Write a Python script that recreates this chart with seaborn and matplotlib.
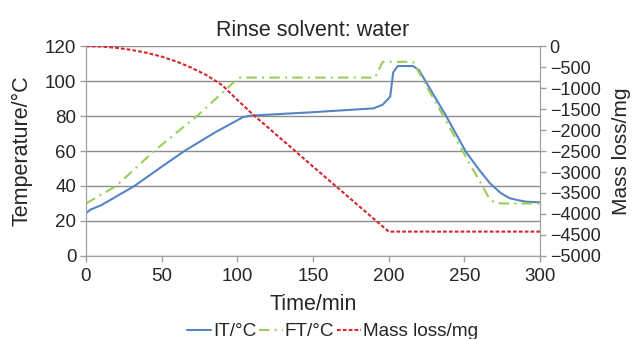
import numpy as np
import pandas as pd
import matplotlib.pyplot as plt
import seaborn as sns

# IT (inner temperature)
it_time = [0, 3, 10, 20, 32, 50, 65, 85, 104, 110, 150, 190, 196, 201, 203, 206, 216, 220, 238, 251, 260, 267, 274, 280, 286, 291, 300]
it_temp = [24.5, 26.5, 29, 34, 40, 51, 60, 70.5, 79.5, 80.3, 82.2, 84.4, 86.5, 91, 105, 108.6, 108.6, 106.3, 80, 59.6, 49, 41.5, 36, 33, 31.8, 31, 30.7]

# FT (furnace temperature)
ft_time = [0, 20, 45, 74, 101, 191, 196, 216, 220, 238, 254, 262, 266, 270, 275, 300]
ft_temp = [30, 40, 60, 80.5, 102, 102, 111, 111, 105, 77, 52, 40, 33.5, 30.5, 30, 30]

# mass loss
ml_time = [0, 10, 20, 30, 40, 50, 60, 70, 80, 90, 100, 110, 120, 150, 200, 300]
ml_mass = [0, -10, -40, -90, -160, -250, -370, -520, -700, -930, -1280, -1620, -1930, -2870, -4420, -4420]

sns.set_style("white")
plt.rcParams['font.family'] = ['Liberation Sans', 'DejaVu Sans']

fig = plt.figure(figsize=(6.35, 3.39), dpi=100)
ax = fig.add_axes([0.1354, 0.245, 0.715, 0.619])
ax2 = ax.twinx()

blue = '#5584c4'
green = '#9acd5a'
red = '#d8262e'

it_df = pd.DataFrame({'t': it_time, 'v': it_temp})
ft_df = pd.DataFrame({'t': ft_time, 'v': ft_temp})
ml_df = pd.DataFrame({'t': ml_time, 'v': ml_mass})

sns.lineplot(data=it_df, x='t', y='v', ax=ax, color=blue, lw=1.5, label='IT/°C', legend=False)
sns.lineplot(data=ft_df, x='t', y='v', ax=ax, color=green, lw=1.5, ls=(0, (5, 2.5, 1, 2.5)), label='FT/°C', legend=False)
sns.lineplot(data=ml_df, x='t', y='v', ax=ax2, color=red, lw=1.5, ls=(0, (1.8, 1)), label='Mass loss/mg', legend=False)

ax.set_xlim(0, 300)
ax.set_ylim(0, 120)
ax.set_xticks(range(0, 301, 50))
ax.set_yticks(range(0, 121, 20))
ax2.set_ylim(-5000, 0)
ax2.set_yticks(range(-5000, 1, 500))

ax.yaxis.grid(True, color='#8c8c8c', lw=1)
ax.set_axisbelow(True)

for a in (ax, ax2):
    for s in a.spines.values():
        s.set_color('#a0a0a0')
    a.spines['top'].set_visible(False)
    a.tick_params(labelsize=13.5, length=4, color='#a0a0a0', direction='out', width=1, pad=3)
ax.tick_params(axis='x', bottom=True, pad=5)
ax.tick_params(axis='y', left=True)
ax2.tick_params(axis='y', right=True, labelsize=13)

ax.set_xlabel('Time/min', fontsize=15.5, labelpad=6)
ax.set_ylabel('Temperature/°C', fontsize=15.5)
ax2.set_ylabel('Mass loss/mg', fontsize=15)
ax.yaxis.set_label_coords(-0.117, 0.5)
ax2.yaxis.set_label_coords(1.158, 0.5)
ax.set_title('Rinse solvent: water', fontsize=15.5, pad=7)

h1, l1 = ax.get_legend_handles_labels()
h2, l2 = ax2.get_legend_handles_labels()
fig.legend(h1 + h2, l1 + l2, loc='center', bbox_to_anchor=(0.524, 0.022), ncol=3,
           frameon=False, fontsize=13.7, handlelength=1.25, handletextpad=0.1,
           columnspacing=0.15, borderpad=0, borderaxespad=0)

fig.savefig('out.png', dpi=100)
